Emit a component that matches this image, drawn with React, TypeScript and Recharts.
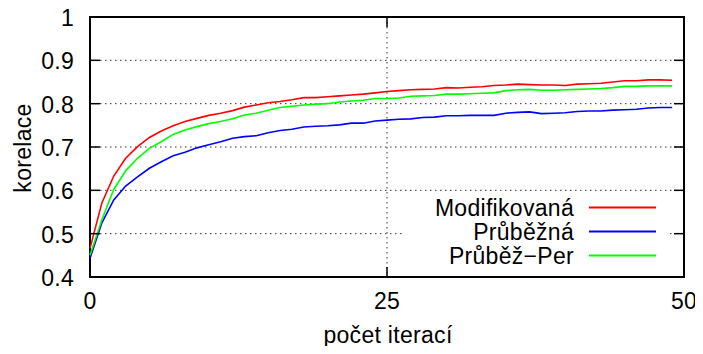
import React from 'react';
import { LineChart, Line, XAxis, YAxis, CartesianGrid, ReferenceArea, Legend } from 'recharts';

const iterations: number[] = Array.from({ length: 50 }, (_, i) => i);

const modifikovana: number[] = [
  0.466, 0.571, 0.633, 0.674, 0.701, 0.722, 0.737, 0.749, 0.759, 0.766,
  0.773, 0.778, 0.784, 0.792, 0.797, 0.802, 0.805, 0.809, 0.814, 0.814,
  0.816, 0.818, 0.820, 0.822, 0.825, 0.828, 0.830, 0.832, 0.833, 0.834,
  0.837, 0.836, 0.838, 0.839, 0.842, 0.843, 0.845, 0.844, 0.843, 0.843,
  0.842, 0.845, 0.846, 0.847, 0.850, 0.853, 0.853, 0.855, 0.855, 0.854,
];

const prubezna: number[] = [
  0.443, 0.525, 0.578, 0.610, 0.631, 0.651, 0.666, 0.680, 0.688, 0.698,
  0.705, 0.712, 0.720, 0.724, 0.726, 0.733, 0.738, 0.741, 0.746, 0.748,
  0.749, 0.751, 0.755, 0.755, 0.760, 0.762, 0.764, 0.765, 0.768, 0.769,
  0.772, 0.772, 0.773, 0.773, 0.773, 0.778, 0.780, 0.781, 0.777, 0.778,
  0.779, 0.782, 0.783, 0.783, 0.785, 0.786, 0.787, 0.790, 0.791, 0.791,
];

const prubezPer: number[] = [
  0.450, 0.532, 0.602, 0.645, 0.674, 0.697, 0.712, 0.729, 0.739, 0.747,
  0.754, 0.759, 0.765, 0.774, 0.778, 0.785, 0.791, 0.794, 0.797, 0.799,
  0.800, 0.804, 0.806, 0.808, 0.812, 0.812, 0.813, 0.817, 0.818, 0.819,
  0.822, 0.822, 0.823, 0.824, 0.825, 0.830, 0.832, 0.833, 0.831, 0.831,
  0.832, 0.833, 0.834, 0.835, 0.837, 0.840, 0.840, 0.841, 0.841, 0.841,
];

const seriesNames: string[] = ['Modifikovaná', 'Průběžná', 'Průběž−Per'];
const seriesColors: string[] = ['#ff0000', '#0000ff', '#00ff00'];
const xTicks: number[] = [0, 25, 50];
const yTicks: number[] = [0.4, 0.5, 0.6, 0.7, 0.8, 0.9, 1];

const data = iterations.map((x, i) => ({
  x,
  m: modifikovana[i],
  p: prubezna[i],
  pp: prubezPer[i],
}));

const FONT = '"Liberation Sans", Arial, Helvetica, sans-serif';
const FS = 23;
const LS = 0.3;
const PL = 90;
const PR = 684;
const PT = 17;
const PB = 277;

const YTick = (props: any) => {
  const { x, y, payload } = props;
  const v: number = payload.value;
  const inner = v > 0.45 && v < 0.95;
  return (
    <g>
      <text x={x} y={y + 1} textAnchor="end" dominantBaseline="central" fontSize={FS} letterSpacing={LS} fill="#000" fontFamily={FONT}>
        {v === 1 ? '1' : v.toFixed(1)}
      </text>
      {inner && <line x1={PL} x2={PL + 10} y1={y} y2={y} stroke="#000" strokeWidth={1.5} />}
      {inner && <line x1={PR - 10} x2={PR} y1={y} y2={y} stroke="#000" strokeWidth={1.5} />}
    </g>
  );
};

const XTick = (props: any) => {
  const { x, y, payload } = props;
  const v: number = payload.value;
  const inner = v > 0 && v < 50;
  return (
    <g>
      <text x={x} y={y} dy="0.71em" textAnchor="middle" fontSize={FS} letterSpacing={LS} fill="#000" fontFamily={FONT}>
        {String(v)}
      </text>
      {inner && <line x1={x} x2={x} y1={PB} y2={PB - 10} stroke="#000" strokeWidth={1.5} />}
      {inner && <line x1={x} x2={x} y1={PT} y2={PT + 10} stroke="#000" strokeWidth={1.5} />}
    </g>
  );
};

const LegendContent = () => (
  <svg width={265} height={78} style={{ display: 'block' }}>
    {seriesNames.map((name, i) => {
      const cy = 12.5 + i * 24;
      return (
        <g key={name}>
          <text x={169} y={cy + 8.5} textAnchor="end" fontSize={FS} letterSpacing={LS} fill="#000" fontFamily={FONT}>
            {name}
          </text>
          <line x1={184} x2={251} y1={cy} y2={cy} stroke={seriesColors[i]} strokeWidth={2} />
        </g>
      );
    })}
  </svg>
);

export default function App() {
  return (
    <div style={{ margin: -8, width: 703, height: 354, background: '#fff', fontFamily: FONT }}>
      <LineChart
        width={703}
        height={354}
        data={data}
        margin={{ top: PT, right: 703 - PR, bottom: 0, left: 0 }}
      >
        <CartesianGrid stroke="#333" strokeDasharray="1.5 3.5" strokeWidth={1} />
        <XAxis
          type="number"
          dataKey="x"
          domain={[0, 50]}
          ticks={xTicks}
          height={354 - PB}
          axisLine={false}
          tickLine={false}
          tickSize={6}
          tickMargin={10}
          tick={<XTick />}
          label={{
            content: () => (
              <text x={388} y={343} textAnchor="middle" fontSize={FS} letterSpacing={LS} fill="#000" fontFamily={FONT}>
                počet iterací
              </text>
            ),
          }}
        />
        <YAxis
          type="number"
          domain={[0.4, 1]}
          ticks={yTicks}
          width={PL}
          axisLine={false}
          tickLine={false}
          tickSize={6}
          tickMargin={10}
          tick={<YTick />}
          label={{
            content: () => (
              <text
                x={23}
                y={148}
                transform="rotate(-90 23 148)"
                textAnchor="middle"
                dominantBaseline="central"
                fontSize={FS}
                letterSpacing={LS}
                fill="#000"
                fontFamily={FONT}
              >
                korelace
              </text>
            ),
          }}
        />
        <Line type="linear" dataKey="m" stroke={seriesColors[0]} strokeWidth={1.6} dot={false} isAnimationActive={false} />
        <Line type="linear" dataKey="p" stroke={seriesColors[1]} strokeWidth={1.6} dot={false} isAnimationActive={false} />
        <Line type="linear" dataKey="pp" stroke={seriesColors[2]} strokeWidth={1.6} dot={false} isAnimationActive={false} />
        <ReferenceArea x1={0} x2={50} y1={0.4} y2={1} fill="none" stroke="#000" strokeWidth={2} ifOverflow="visible" />
        <Legend
          layout="horizontal"
          verticalAlign="middle"
          align="center"
          content={<LegendContent />}
          wrapperStyle={{ position: 'absolute', left: 405, top: 195, width: 265, height: 78, background: '#fff' }}
        />
      </LineChart>
    </div>
  );
}
